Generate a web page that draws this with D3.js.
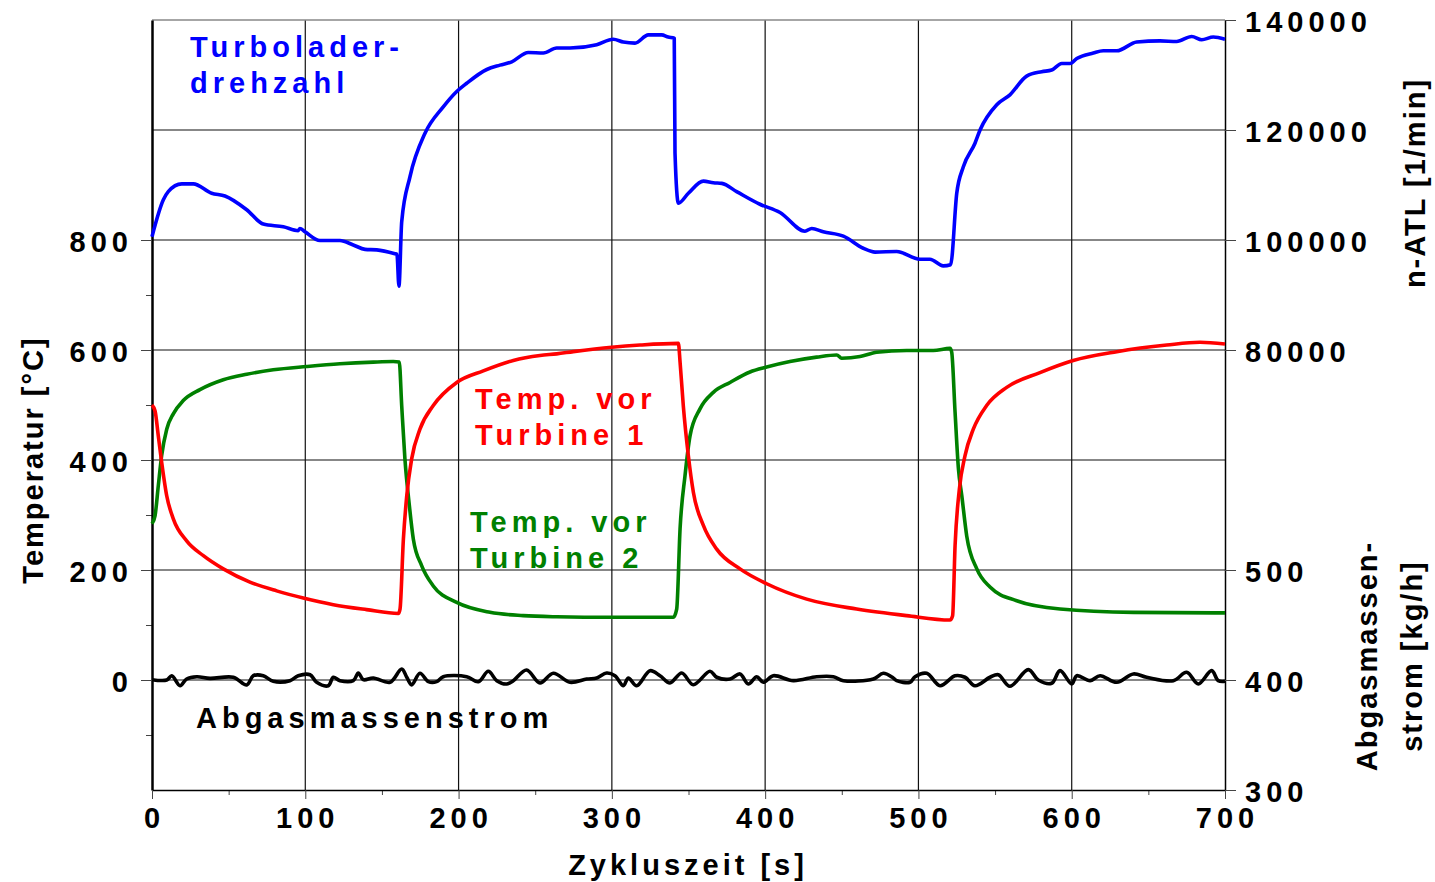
<!DOCTYPE html>
<html>
<head>
<meta charset="utf-8">
<script src="https://cdn.jsdelivr.net/npm/d3@7"></script>
<style>
  body { margin: 0; background: #fff; }
  svg { display: block; }
  text { font-family: "Liberation Sans", Arial, sans-serif; font-weight: bold; }
  .tick text { font-size: 29px; letter-spacing: 5px; fill: #000; }
  .tick line { stroke: #444; stroke-width: 1; }
</style>
</head>
<body>
<svg width="1435" height="882"></svg>
<script>
// time [s], n-ATL [1/min]
var speed = [[0,100600],[7.4,107300],[10.6,108800],[19.4,110200],[26.9,110200],[38.9,108500],[47.6,108000],[61.8,105500],[72.6,102900],[85.7,102400],[95.4,101700],[96.5,102100],[99.8,101500],[109.6,99900],[122.6,99900],[131.3,99100],[139,98300],[146.6,98200],[158.5,97500],[159.8,97400],[161.1,91600],[162.9,103300],[168.3,111500],[178.1,119400],[190,124200],[198.8,127000],[205.3,128500],[218.4,131000],[227,131800],[234.7,132400],[245.5,134100],[255.3,134000],[264,134900],[272.7,134900],[290.1,135500],[300.9,136500],[307.5,136000],[315.1,135800],[323.8,137300],[332.5,137300],[336.8,136900],[340.7,136700],[341.2,115800],[343.4,106700],[349.9,108500],[359.7,110700],[366.2,110400],[371.7,110300],[381.4,108800],[396.6,106500],[409.7,105000],[426,101600],[430.4,102100],[437.9,101500],[451,100700],[464,98500],[471.7,97800],[485.8,97900],[501,96500],[507.5,96500],[516.2,95300],[521,95500],[525,108500],[529.3,113300],[536.9,117600],[540.2,120000],[551.1,124600],[559.7,126400],[570.6,129800],[580.4,130600],[586.9,130900],[593.5,132100],[598.9,132100],[603.3,133000],[614.1,134000],[620.6,134400],[629.4,134400],[642.4,136000],[657.6,136200],[668.5,136100],[678.3,137000],[684.8,136400],[692.4,136900],[700,136500]];

// time [s], Temp. vor Turbine 1 [°C]
var temp1 = [[0,500],[2,489],[4.1,444],[6.3,396],[9.6,335],[13.9,293],[22.6,253],[33.5,226],[46.5,202],[63.9,178],[81.3,162],[98.7,149],[118.3,137],[140,128],[160.7,121],[161.8,129],[164,256],[166.2,335],[169.4,402],[174.8,456],[183.5,499],[198.8,541],[216.1,562],[235.7,581],[253.1,590],[264,593],[274.8,597],[299.9,605],[318.4,609],[343.4,612],[344.5,578],[346.6,499],[349.9,408],[353.2,341],[359.7,281],[368.4,238],[383.6,202],[401,175],[427.1,147],[459.7,129],[492.3,117],[520.6,109],[522.3,117],[523.9,244],[526.7,347],[530.4,408],[535.8,456],[544.5,499],[557.6,532],[579.3,559],[601,581],[629.4,597],[662,609],[683.7,614],[700,611]];

// time [s], Temp. vor Turbine 2 [°C]
var temp2 = [[0,284],[2,299],[4.1,353],[6.3,408],[9.6,456],[13.9,484],[20.4,508],[31.3,528],[46.5,546],[61.8,556],[79.1,564],[100.9,570],[122.6,575],[144.4,578],[157.4,579],[161.3,578],[162.9,499],[165,402],[167.9,317],[170.5,256],[175.9,208],[183.5,171],[198.8,141],[220.5,123],[242.2,117],[264,115],[300,114],[340.1,114],[342.3,129],[344.5,275],[347.7,371],[351,444],[357.5,493],[366.2,523],[377.1,541],[390.1,560],[401,569],[416.2,579],[433.6,587],[446.7,591],[449.9,585],[461.9,588],[472.8,596],[492.3,599],[509.7,599],[520.6,603],[521.7,596],[523.9,487],[526.1,384],[528.3,335],[531.5,262],[538.1,202],[546.7,169],[564.1,144],[592.4,129],[640.2,123],[700,122]];

// time [s], Abgasmassenstrom [kg/h]
var massflow = [[0,400.3],[9.6,400],[12.9,403.9],[18.3,394.8],[22.6,400.9],[29.2,403],[37.8,401.5],[53,402.5],[61.8,395.5],[66.1,403.9],[72.6,403.9],[79.1,398.8],[90,399.4],[95.4,403.9],[103.1,404.8],[107.4,397.9],[115,394.8],[118.3,402.5],[122.6,399.4],[131.3,399.4],[134.6,406.4],[137.8,400.3],[144.4,401.8],[155.3,397.9],[162.9,410],[166.2,402.5],[169.4,395.5],[174.8,406.1],[180.3,398.5],[185.7,398.5],[190,403],[205.3,403],[212.9,398.5],[219.4,407.9],[224.9,399.4],[231.4,396.4],[235.7,399.4],[244.4,409.1],[253.1,397.3],[261.8,406.1],[272.7,397.9],[283.6,400.9],[290.1,401.8],[296.6,406.4],[302,403.9],[307.5,394.8],[310.7,401.8],[316.2,394.8],[324.9,408.5],[331.4,403.9],[337.9,397.3],[345.6,406.4],[353.1,395.7],[364,407.9],[368.4,402.5],[377.1,400.9],[383.6,405.5],[389,396.4],[394.5,403],[398.8,397.9],[405.3,403.9],[418.4,399.4],[433.6,403],[444.5,403],[451,399.4],[470.6,400.9],[477.1,406.1],[483.6,401.8],[485.8,399.4],[494.5,397.9],[497.8,403],[505.4,406.1],[514.1,394.8],[523.9,403.9],[530.4,402.5],[536.9,394.8],[546.7,402.5],[552.1,404.8],[559.7,394.3],[571.7,409.4],[578.2,400],[586.9,397],[592.4,408.5],[600,396.4],[603.3,403.9],[612,399.4],[618.5,403.9],[629.4,397.9],[640.2,405.5],[648.9,402.5],[666.3,399.4],[675,407],[682.6,396.4],[691.3,408.5],[695.6,399.4],[700,398.8]];

var xTicks = [0, 100, 200, 300, 400, 500, 600, 700];
var xMinor = [50, 150, 250, 350, 450, 550, 650];
var tempTicks = [0, 200, 400, 600, 800];
var tempMinor = [-100, 100, 300, 500, 700];
var tempGrid = [0, 200, 400, 600, 800, 1000];
var speedTicks = [80000, 100000, 120000, 140000];
var flowTicks = [300, 400, 500];

var svg = d3.select("svg");
var pL = 152, pR = 1225, pT = 20, pB = 790;

var x = d3.scaleLinear().domain([0, 700]).range([pL, pR]);
var yT = d3.scaleLinear().domain([-200, 1200]).range([pB, pT]);
var yN = d3.scaleLinear().domain([0, 140000]).range([pB, pT]);
var yM = d3.scaleLinear().domain([300, 1000]).range([pB, pT]);

// grid
var grid = svg.append("g");
grid.selectAll(".hg").data(tempGrid).enter().append("line")
    .attr("x1", pL).attr("x2", pR)
    .attr("y1", d => yT(d)).attr("y2", d => yT(d))
    .attr("stroke", "#111").attr("stroke-width", 1.2);
grid.selectAll(".vg").data(xTicks.slice(1, -1)).enter().append("line")
    .attr("x1", d => x(d)).attr("x2", d => x(d))
    .attr("y1", pT).attr("y2", pB)
    .attr("stroke", "#111").attr("stroke-width", 1.2);
grid.append("line").attr("x1", pL).attr("x2", pR).attr("y1", pT).attr("y2", pT)
    .attr("stroke", "#888").attr("stroke-width", 1.5);

// axes
function styleAxis(g, width) {
    g.select(".domain").attr("stroke", "#000").attr("stroke-width", width);
}

svg.append("g").attr("transform", `translate(${pL},0)`)
    .call(d3.axisLeft(yT).tickValues(tempMinor).tickSize(6).tickSizeOuter(0).tickFormat(""))
    .call(g => g.select(".domain").remove());
svg.append("g").attr("transform", `translate(${pL},0)`)
    .call(d3.axisLeft(yT).tickValues(tempTicks).tickSize(11).tickPadding(8).tickSizeOuter(0))
    .call(g => styleAxis(g, 2.5))
    .call(g => g.selectAll("text").attr("dy", "0.38em"));

svg.append("g").attr("transform", `translate(0,${pB})`)
    .call(d3.axisBottom(x).tickValues(xMinor).tickSize(5).tickSizeOuter(0).tickFormat(""))
    .call(g => g.select(".domain").remove());
svg.append("g").attr("transform", `translate(0,${pB})`)
    .call(d3.axisBottom(x).tickValues(xTicks).tickSize(9).tickPadding(8).tickSizeOuter(0))
    .call(g => styleAxis(g, 1.5))
    .call(g => g.selectAll("text").attr("dx", "2px"));

svg.append("g").attr("transform", `translate(${pR},0)`)
    .call(d3.axisRight(yN).tickValues(speedTicks).tickSize(11).tickPadding(9).tickSizeOuter(0).tickFormat(d3.format("d")))
    .call(g => styleAxis(g, 1.5))
    .call(g => g.selectAll("text").attr("dy", "0.38em"));
svg.append("g").attr("transform", `translate(${pR},0)`)
    .call(d3.axisRight(yM).tickValues(flowTicks).tickSize(11).tickPadding(9).tickSizeOuter(0).tickFormat(d3.format("d")))
    .call(g => g.select(".domain").remove())
    .call(g => g.selectAll("text").attr("dy", "0.38em"));

// series
function drawLine(data, yScale, color, curve) {
    svg.append("path")
        .datum(data)
        .attr("fill", "none")
        .attr("stroke", color)
        .attr("stroke-width", 3.6)
        .attr("stroke-linejoin", "round")
        .attr("d", d3.line().x(d => x(d[0])).y(d => yScale(d[1])).curve(curve));
}
drawLine(massflow, yM, "#000000", d3.curveCatmullRom);
drawLine(temp2, yT, "#008000", d3.curveMonotoneX);
drawLine(temp1, yT, "#ff0000", d3.curveMonotoneX);
drawLine(speed, yN, "#0000ff", d3.curveMonotoneX);

// series labels
function label(lines, px, py, color) {
    var t = svg.append("text")
        .attr("fill", color)
        .style("font-size", "29px")
        .style("letter-spacing", "5px");
    lines.forEach(function(s, i) {
        t.append("tspan").attr("x", px).attr("y", py + i * 36).text(s);
    });
}
label(["Turbolader-", "drehzahl"], 190, 57, "#0000ff");
label(["Temp. vor", "Turbine 1"], 475, 409, "#ff0000");
label(["Temp. vor", "Turbine 2"], 470, 532, "#008000");
label(["Abgasmassenstrom"], 196, 728, "#000000");

// axis titles
svg.append("text")
    .attr("transform", "translate(43,460) rotate(-90)")
    .attr("text-anchor", "middle")
    .style("font-size", "29px").style("letter-spacing", "2px")
    .text("Temperatur [°C]");

svg.append("text")
    .attr("x", 688).attr("y", 875)
    .attr("text-anchor", "middle")
    .style("font-size", "29px").style("letter-spacing", "4px")
    .text("Zykluszeit [s]");

svg.append("text")
    .attr("transform", "translate(1425,183) rotate(-90)")
    .attr("text-anchor", "middle")
    .style("font-size", "29px").style("letter-spacing", "2px")
    .text("n-ATL [1/min]");

var flowTitle = svg.append("text")
    .attr("transform", "translate(1377,656) rotate(-90)")
    .attr("text-anchor", "middle")
    .style("font-size", "29px").style("letter-spacing", "2px");
flowTitle.append("tspan").attr("x", 0).attr("y", 0).text("Abgasmassen-");
flowTitle.append("tspan").attr("x", 0).attr("y", 45).text("strom [kg/h]");
</script>
</body>
</html>
